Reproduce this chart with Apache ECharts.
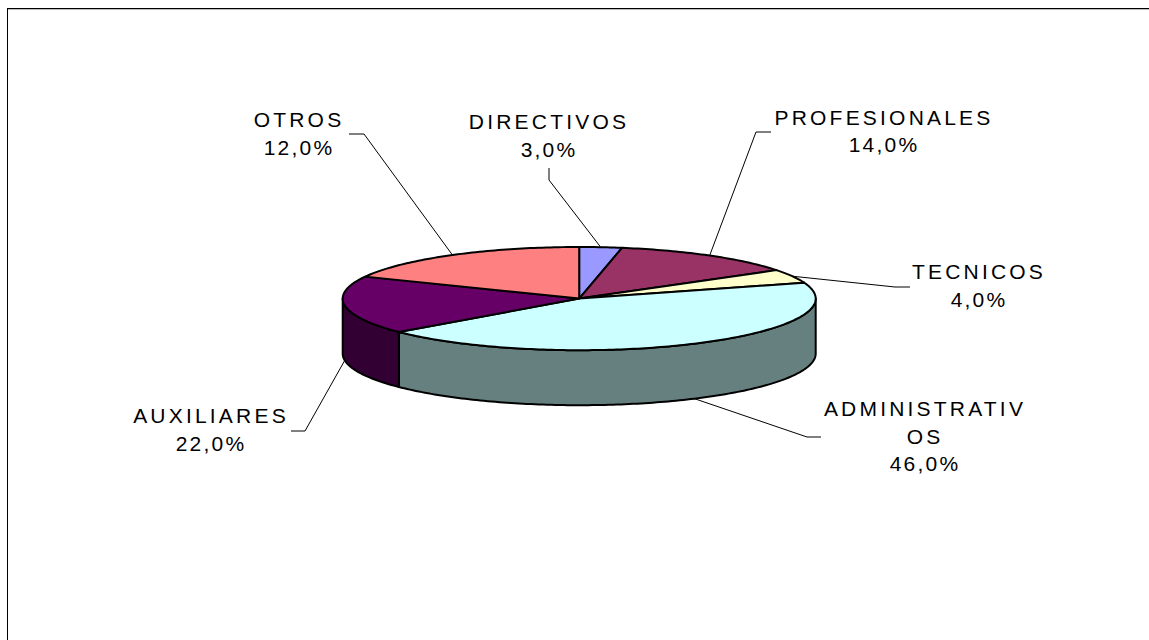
<!DOCTYPE html>
<html>
<head>
<meta charset="utf-8">
<title>Personal</title>
<script src="https://cdn.jsdelivr.net/npm/echarts@6/dist/echarts.min.js"></script>
<style>
  html, body { margin: 0; padding: 0; background: #fff; }
  #chart { width: 1149px; height: 640px; }
</style>
</head>
<body>
<div id="chart"></div>
<script>
// textos y porcentajes tal como aparecen en las etiquetas
const categories = ["DIRECTIVOS", "PROFESIONALES", "TECNICOS", "ADMINISTRATIV\nOS", "AUXILIARES", "OTROS"];
const labelValues = [3, 14, 4, 46, 22, 12];
// el dibujo no sigue las etiquetas: estos son los tamaños leidos de la tarta
const sliceShares = [2.9, 12.8, 4.3, 43.8, 18.2, 18];
const topColors = ["#9999FF", "#993366", "#FFFFCC", "#CCFFFF", "#660066", "#FF8080"];
const sideColors = ["#4D4D80", "#4D1A33", "#808066", "#668080", "#330033", "#804040"];

// posicion de cada etiqueta: centro x, centro y de la primera linea
const labelPos = [[549, 121.5], [884, 117], [979, 271.5], [925, 408.5], [211, 415.5], [299, 119.5]];
// codo de la linea guia y su extremo junto al texto
const leaderPos = [
  [[549, 180], [549, 168]],
  [[756, 132], [771, 132]],
  [[895, 287], [910, 287]],
  [[807, 437], [821, 437]],
  [[305, 431], [291, 431]],
  [[364, 134], [349, 134]]
];

const cx = 579.2, cy = 298.6, rx = 236.5, ry = 51.6, depth = 55;
const lineGap = 27.5;
const total = sliceShares.reduce((a, b) => a + b, 0);

function pt(deg, dy) {
  let r = deg * Math.PI / 180;
  return [cx + rx * Math.sin(r), cy - ry * Math.cos(r) + (dy || 0)];
}

function arc(from, to, dy) {
  let pts = [];
  let steps = Math.max(2, Math.ceil(Math.abs(to - from)));
  for (let i = 0; i <= steps; i++) {
    pts.push(pt(from + (to - from) * i / steps, dy));
  }
  return pts;
}

function renderSlice(params, api) {
  let i = params.dataIndex;
  let before = 0;
  for (let k = 0; k < i; k++) before += sliceShares[k];
  let a0 = before / total * 360;
  let a1 = (before + api.value(0)) / total * 360;
  let mid = (a0 + a1) / 2;
  let children = [];

  // pared frontal, solo entre 90 y 270 grados
  let w0 = Math.max(a0, 90), w1 = Math.min(a1, 270);
  if (w1 > w0) {
    children.push({
      type: "polygon",
      shape: { points: arc(w0, w1, 0).concat(arc(w1, w0, depth)) },
      style: { fill: sideColors[i], stroke: "#000", lineWidth: 2, lineJoin: "round" }
    });
  }

  children.push({
    type: "polygon",
    shape: { points: [[cx, cy]].concat(arc(a0, a1, 0)) },
    style: { fill: topColors[i], stroke: "#000", lineWidth: 2, lineJoin: "round" }
  });

  // linea guia desde el punto medio del sector
  let front = Math.cos(mid * Math.PI / 180) < 0;
  children.push({
    type: "polyline",
    shape: { points: [pt(mid, front ? depth : 0), leaderPos[i][0], leaderPos[i][1]] },
    style: { fill: null, stroke: "#000", lineWidth: 1 }
  });

  let lines = categories[i].split("\n");
  lines.push(labelValues[i].toFixed(1).replace(".", ",") + "%");
  lines.forEach((t, n) => {
    children.push({
      type: "text",
      x: labelPos[i][0],
      y: labelPos[i][1] + n * lineGap,
      style: {
        text: t,
        fontFamily: "Liberation Sans",
        fontSize: 21,
        fill: "#000",
        align: "center",
        verticalAlign: "middle"
      }
    });
  });

  return { type: "group", children: children };
}

const chart = echarts.init(document.getElementById("chart"), null, { renderer: "svg" });

function spaceLetters() {
  document.querySelectorAll("#chart text").forEach(function (el) {
    el.style.letterSpacing = el.textContent.indexOf("%") >= 0 ? "2.2px" : "3.2px";
  });
}
chart.on("finished", spaceLetters);

chart.setOption({
  backgroundColor: "#fff",
  animation: false,
  tooltip: { show: false },
  graphic: [
    { type: "line", shape: { x1: 8, y1: 9.5, x2: 1149, y2: 9.5 }, style: { stroke: "#bbb", lineWidth: 1 } },
    { type: "line", shape: { x1: 7, y1: 8.5, x2: 1149, y2: 8.5 }, style: { stroke: "#000", lineWidth: 1 } },
    { type: "line", shape: { x1: 7.5, y1: 8, x2: 7.5, y2: 640 }, style: { stroke: "#000", lineWidth: 1 } }
  ],
  series: [{
    type: "custom",
    coordinateSystem: "none",
    silent: true,
    renderItem: renderSlice,
    data: sliceShares.map((v, i) => ({ name: categories[i], value: [v] }))
  }]
});
spaceLetters();
</script>
</body>
</html>
